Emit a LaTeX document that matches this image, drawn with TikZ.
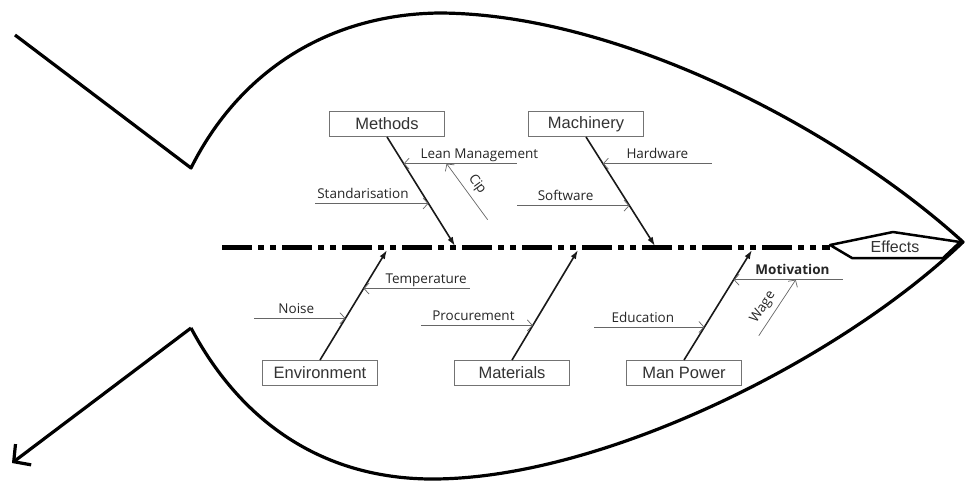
\documentclass[tikz,border=0pt]{standalone}
\usepackage{fontspec}
\setmainfont{Liberation Sans}
\newfontfamily\labelfont{Open Sans}
\usepackage{tikz}
\usetikzlibrary{arrows.meta, positioning, calc}

\begin{document}
\begin{tikzpicture}[
    x=1pt, y=-1pt,
    cause/.style={rectangle, draw=black!55, fill=white, line width=0.9pt, minimum width=115pt, minimum height=25pt, inner sep=0pt, font=\fontsize{16.5}{18}\selectfont, text=black!80},
    bone/.style={-{Latex[length=9pt,width=6pt]}, line width=1.6pt, black!90},
    sub/.style={-{Straight Barb[length=5pt,width=11pt]}, line width=0.7pt, black!60},
    lbl/.style={font=\labelfont\fontsize{13.5}{15}\selectfont, text=black!85, inner sep=1.5pt, text height=10pt, text depth=3pt},
    fish/.style={line width=3.2pt, line join=round},
    spine/.style={line width=5pt, dash pattern=on 30pt off 6pt on 6pt off 6pt on 6pt off 6pt}
]
\useasboundingbox (0,0) rectangle (965,482);

% fish body
\draw[fish] (15,35) -- (191,168) .. controls (240,70) and (330,14) .. (440,13)
    .. controls (620,14) and (840,130) .. (963,242)
    .. controls (840,360) and (600,480) .. (430,479)
    .. controls (320,478) and (240,420) .. (191,328);
\draw[fish, -{Straight Barb[length=12pt,width=26pt]}] (191,328) -- (12,463);

% head
\draw[line width=2.5pt, line join=round] (830,245) -- (893,232) -- (960,242) -- (943,258) -- (852,258) -- cycle;
\node[font=\fontsize{16}{18}\selectfont, text=black!80] (effects) at (895,247) {Effects};
\coordinate (spinestart) at (222,247);
\coordinate (effL) at (830,247);
\draw[spine] (spinestart) -- (effL);

% causes
\node[cause] (methods) at (387,124) {Methods};
\node[cause] (machinery) at (586,124) {Machinery};
\node[cause] (environment) at (320,373) {Environment};
\node[cause] (materials) at (512,373) {Materials};
\node[cause] (manpower) at (684,373) {Man Power};

\coordinate (mthtip) at (455,246);
\coordinate (mchtip) at (655,246);
\coordinate (envtip) at (387,250);
\coordinate (mattip) at (578,250);
\coordinate (mantip) at (752,250);

\draw[bone] (methods.south) -- (mthtip);
\draw[bone] (machinery.south) -- (mchtip);
\draw[bone] (environment.north) -- (envtip);
\draw[bone] (materials.north) -- (mattip);
\draw[bone] (manpower.north) -- (mantip);

% sub causes
\coordinate (leantip) at ($(methods.south)!0.245!(mthtip)$);
\coordinate (leanstart) at ([xshift=113pt]leantip);
\draw[sub] (leanstart) -- (leantip) node[lbl, above, pos=0.33] {Lean Management};

\coordinate (ciptip) at ($(leantip)!0.38!(leanstart)$);
\coordinate (cipstart) at ([xshift=41pt,yshift=-56pt]ciptip);
\draw[sub] (cipstart) -- (ciptip) node[lbl, above=4pt, sloped, pos=0.5] {Cip};

\coordinate (stdtip) at ($(methods.south)!0.61!(mthtip)$);
\coordinate (stdstart) at ([xshift=-113pt]stdtip);
\draw[sub] (stdstart) -- (stdtip) node[lbl, above, pos=0.42] {Standarisation};

\coordinate (hwtip) at ($(machinery.south)!0.245!(mchtip)$);
\coordinate (hwstart) at ([xshift=109pt]hwtip);
\draw[sub] (hwstart) -- (hwtip) node[lbl, above, pos=0.5] {Hardware};

\coordinate (swtip) at ($(machinery.south)!0.63!(mchtip)$);
\coordinate (swstart) at ([xshift=-112pt]swtip);
\draw[sub] (swstart) -- (swtip) node[lbl, above, pos=0.43] {Software};

\coordinate (temptip) at ($(environment.north)!0.65!(envtip)$);
\coordinate (tempstart) at ([xshift=106pt]temptip);
\draw[sub] (tempstart) -- (temptip) node[lbl, above, pos=0.41] {Temperature};

\coordinate (noisetip) at ($(environment.north)!0.38!(envtip)$);
\coordinate (noisestart) at ([xshift=-91pt]noisetip);
\draw[sub] (noisestart) -- (noisetip) node[lbl, above, pos=0.46] {Noise};

\coordinate (proctip) at ($(materials.north)!0.315!(mattip)$);
\coordinate (procstart) at ([xshift=-112pt]proctip);
\draw[sub] (procstart) -- (proctip) node[lbl, above, pos=0.47] {Procurement};

\coordinate (edutip) at ($(manpower.north)!0.3!(mantip)$);
\coordinate (edustart) at ([xshift=-110pt]edutip);
\draw[sub] (edustart) -- (edutip) node[lbl, above, pos=0.44] {Education};

\coordinate (mottip) at ($(manpower.north)!0.73!(mantip)$);
\coordinate (motstart) at ([xshift=109pt]mottip);
\draw[sub] (motstart) -- (mottip) node[lbl, above, pos=0.46, font=\labelfont\bfseries\fontsize{13.5}{15}\selectfont] {Motivation};

\coordinate (wagetip) at ($(mottip)!0.57!(motstart)$);
\coordinate (wagestart) at ([xshift=-37pt,yshift=-56pt]wagetip);
\draw[sub] (wagestart) -- (wagetip) node[lbl, above=4pt, sloped, pos=0.39] {Wage};

\end{tikzpicture}
\end{document}
